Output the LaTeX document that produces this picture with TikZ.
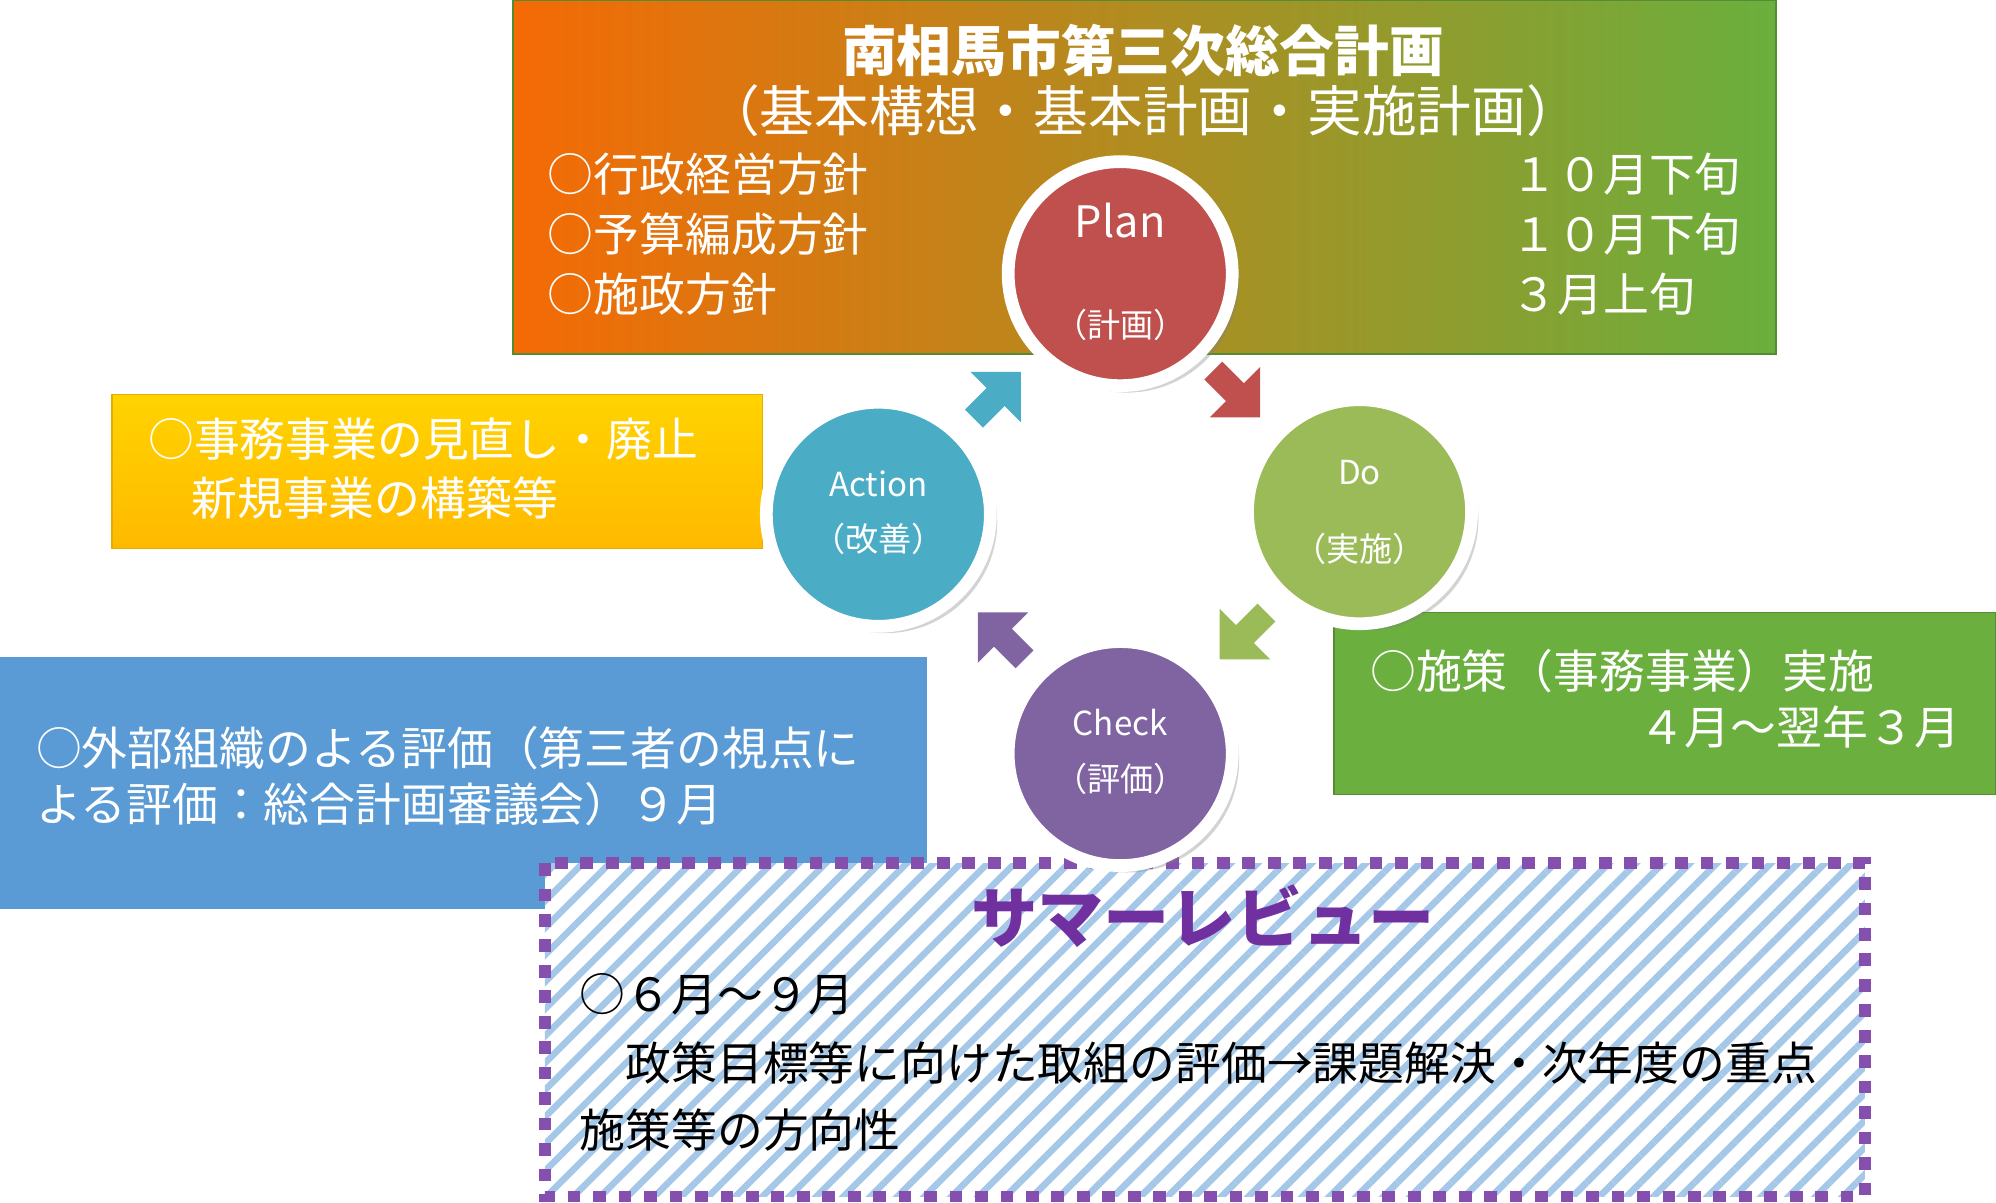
\documentclass[tikz,border=0pt]{standalone}
\usepackage{fontspec}
\setmainfont{Noto Sans CJK JP}
\usetikzlibrary{shapes.arrows,patterns.meta,shadows}
\definecolor{gA}{HTML}{6AAF3D}
\definecolor{oA}{HTML}{F56A05}
\definecolor{rC}{HTML}{C0504D}
\definecolor{gC}{HTML}{9BBB59}
\definecolor{pC}{HTML}{8064A2}
\definecolor{tC}{HTML}{4BACC6}
\definecolor{yA}{HTML}{FFC000}
\definecolor{bA}{HTML}{5B9BD5}
\definecolor{gB}{HTML}{6BB03F}
\definecolor{sumP}{HTML}{7030A0}
\tikzset{
 wt/.style={text=white,anchor=west,inner sep=0pt,font=\fontsize{18}{20}\selectfont},
 bt/.style={anchor=west,inner sep=0pt,font=\fontsize{18}{20}\selectfont},
 circ/.style={circle,draw=white,line width=5pt,minimum size=88pt,drop shadow={opacity=0.35}},
 cl/.style={text=white,font=\fontsize{13}{15}\selectfont},
 blk/.style={single arrow,minimum height=26pt,minimum width=28pt,single arrow head extend=4pt,inner sep=2pt}
}
\begin{document}
\begin{tikzpicture}[x=0.5pt,y=-0.5pt]
\useasboundingbox (0,0) rectangle (1568,945);
% top box
\shade[left color=oA,middle color=gA,right color=gA] (403,0) rectangle (1395,278);
\draw[gA!80!black,line width=0.6pt] (403,0) rectangle (1395,278);
\node[text=white,font=\bfseries\fontsize{21.5}{24}\selectfont] (t1) at (898,40) {南相馬市第三次総合計画};
\node[text=white,font=\fontsize{21.5}{24}\selectfont] (t2) at (898,87) {（基本構想・基本計画・実施計画）};
\node[wt] (a1) at (430,137) {○行政経営方針};
\node[wt] (a2) at (430,184) {○予算編成方針};
\node[wt] (a3) at (430,231) {○施政方針};
\node[wt] (b1) at (1187,137) {１０月下旬};
\node[wt] (b2) at (1187,184) {１０月下旬};
\node[wt] (b3) at (1187,231) {３月上旬};
% yellow box
\shade[top color=yA!70!yellow,bottom color=yA!90!orange] (88,310) rectangle (599,431);
\draw[yA!90!black,line width=0.6pt] (88,310) rectangle (599,431);
\node[wt] (y1) at (116,345) {○事務事業の見直し・廃止};
\node[wt] (y2) at (150,391) {新規事業の構築等};
% blue box
\fill[bA] (0,516) rectangle (728,714);
\node[wt] (c1) at (28,588) {○外部組織のよる評価（第三者の視点に};
\node[wt] (c2) at (28,632) {よる評価：総合計画審議会）９月};
% green box
\fill[gB] (1048,481) rectangle (1568,624);
\draw[gB!80!black,line width=0.6pt] (1048,481) rectangle (1568,624);
\node[wt] (d1) at (1076,527) {○施策（事務事業）実施};
\node[wt,anchor=east] (d2) at (1540,571) {４月～翌年３月};
% summer review
\fill[white] (428,678) rectangle (1465,940);
\fill[pattern={Lines[angle=45,distance=7.5pt,line width=2.6pt]},pattern color=bA!55] (428,678) rectangle (1465,940);
\draw[sumP!85,line width=4.5pt,dash pattern=on 5pt off 5pt] (428,678) rectangle (1465,940);
\node[text=sumP,font=\bfseries\fontsize{26}{28}\selectfont] (s0) at (945,720) {サマーレビュー};
\node[bt] (s1) at (455,781) {○６月～９月};
\node[bt] (s2) at (455,835) {　政策目標等に向けた取組の評価→課題解決・次年度の重点};
\node[bt] (s3) at (455,888) {施策等の方向性};
% circles
\node[circ,fill=rC] (plan) at (880,215) {};
\node[circ,fill=gC] (do) at (1068,402) {};
\node[circ,fill=pC] (check) at (880,592) {};
\node[circ,fill=tC] (act) at (690,404) {};
\node[cl,font=\fontsize{17}{19}\selectfont] (pl1) at (880,173) {Plan};
\node[cl] (pl2) at (880,255) {（計画）};
\node[cl] (do1) at (1068,371) {Do};
\node[cl] (do2) at (1068,431) {（実施）};
\node[cl] (ch1) at (880,568) {Check};
\node[cl] (ch2) at (880,612) {（評価）};
\node[cl] (ac1) at (690,380) {Action};
\node[cl] (ac2) at (690,423) {（改善）};
% arrows
\node[blk,fill=rC,rotate=-45] (ar1) at (968,306) {};
\node[blk,fill=gC,rotate=-135] (ar2) at (980,496) {};
\node[blk,fill=pC,rotate=135] (ar3) at (790,503) {};
\node[blk,fill=tC,rotate=45] (ar4) at (780,314) {};
\end{tikzpicture}
\end{document}
